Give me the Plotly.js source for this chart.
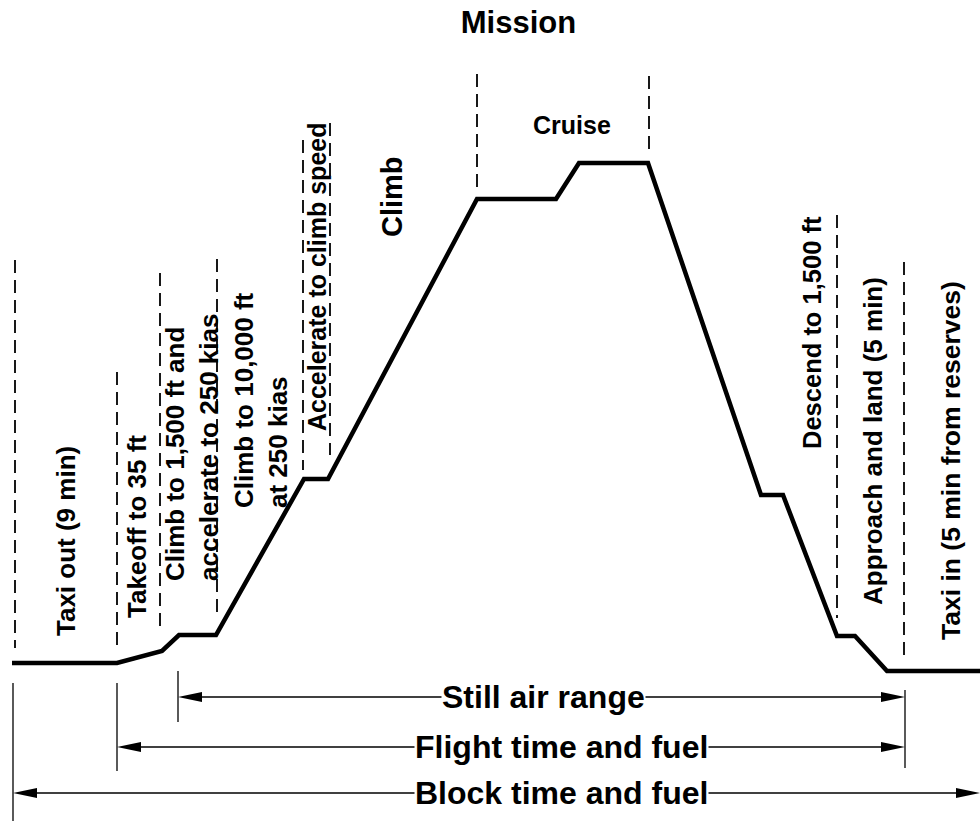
<!DOCTYPE html>
<html>
<head>
<meta charset="utf-8">
<script src="https://cdn.plot.ly/plotly-3.0.1.min.js"></script>
<style>html,body{margin:0;padding:0;background:#fff;}#chart{width:980px;height:821px;}</style>
</head>
<body>
<div id="chart"></div>
<script>
// Flight profile (schematic distance / altitude in drawing units)
const profileX = [12, 117, 162, 179, 216, 304, 328, 477, 556, 579, 648, 761, 783, 837, 855, 887, 980];
const profileY = [663, 663, 651, 635, 635, 479, 479, 199, 199, 163, 163, 495, 495, 636, 636, 671, 671];

// Dashed phase dividers
const dividerX      = [15, 117, 160, 217, 303, 330, 477, 649, 837, 904];
const dividerTop    = [260, 372, 273, 259, 140, 123, 74, 76, 215, 262];
const dividerBottom = [648, 650, 632, 615, 470, 455, 190, 150, 618, 662];

// Phase labels
const phaseLabels = [
  "Taxi out (9 min)",
  "Takeoff to 35 ft",
  "Climb to 1,500 ft and<br>accelerate to 250 kias",
  "Climb to 10,000 ft<br>at 250 kias",
  "Accelerate to climb speed",
  "Climb",
  "Cruise",
  "Descend to 1,500 ft",
  "Approach and land (5 min)",
  "Taxi in (5 min from reserves)"
];
const phaseX     = [66, 137, 192, 261, 317, 392, 572, 812, 873, 951];
const phaseY     = [541, 527, 448, 400, 277, 197, 125, 333, 441, 461];
const phaseAngle = [-90, -90, -90, -90, -90, -90, 0, -90, -90, -90];
const phaseAlign = ["center", "center", "left", "left", "center", "center", "center", "center", "center", "center"];
const phaseSize  = [26, 26, 26, 26, 25, 29, 25, 25.5, 26, 26.5];

// Range / time brackets
const rangeNames = ["Still air range", "Flight time and fuel", "Block time and fuel"];
const rangeStart = [178, 117, 13];
const rangeEnd   = [905, 905, 980];
const rangeY     = [697, 747, 793];
const rangeLabelX = [543, 561, 561];

// Extension (witness) lines of the brackets
const extX      = [13, 117, 178, 905];
const extTop    = [683, 683, 671, 690];
const extBottom = [821, 771, 722, 768];

const FONT = "Liberation Sans, Arial, Helvetica, sans-serif";

const traces = [{
  x: profileX, y: profileY, type: "scatter", mode: "lines",
  line: {color: "#000", width: 4.5}, hoverinfo: "skip", showlegend: false
}];

const shapes = [];
dividerX.forEach((x, i) => {
  shapes.push({type: "line", xref: "x", yref: "y", x0: x, x1: x, y0: dividerTop[i], y1: dividerBottom[i],
    line: {color: "#000", width: 1.8, dash: "13px,7px"}});
});
extX.forEach((x, i) => {
  shapes.push({type: "line", xref: "x", yref: "y", x0: x, x1: x, y0: extTop[i], y1: extBottom[i],
    line: {color: "#000", width: 1.3}});
});
const AL = 24, AH = 5;
rangeNames.forEach((n, i) => {
  const y = rangeY[i], a = rangeStart[i], b = rangeEnd[i];
  shapes.push({type: "line", xref: "x", yref: "y", x0: a + 5, x1: b - 5, y0: y, y1: y, line: {color: "#000", width: 1.5}});
  shapes.push({type: "path", xref: "x", yref: "y",
    path: `M ${a} ${y} L ${a + AL} ${y - AH} L ${a + AL} ${y + AH} Z`, fillcolor: "#000", line: {width: 0}});
  shapes.push({type: "path", xref: "x", yref: "y",
    path: `M ${b} ${y} L ${b - AL} ${y - AH} L ${b - AL} ${y + AH} Z`, fillcolor: "#000", line: {width: 0}});
});

const annotations = [];
phaseLabels.forEach((t, i) => {
  annotations.push({x: phaseX[i], y: phaseY[i], xref: "x", yref: "y", text: "<b>" + t + "</b>",
    showarrow: false, textangle: phaseAngle[i], align: phaseAlign[i],
    xanchor: "center", yanchor: "middle",
    font: {family: FONT, size: phaseSize[i], color: "#000"}});
});
rangeNames.forEach((t, i) => {
  annotations.push({x: rangeLabelX[i], y: rangeY[i], xref: "x", yref: "y", text: "<b>" + t + "</b>",
    showarrow: false, xanchor: "center", yanchor: "middle", bgcolor: "#fff", borderpad: 0,
    font: {family: FONT, size: 32, color: "#000"}});
});

const layout = {
  width: 980, height: 821,
  margin: {l: 0, r: 0, t: 0, b: 0},
  paper_bgcolor: "#fff", plot_bgcolor: "#fff",
  title: {text: "<b>Mission</b>", x: 518.5 / 980, xanchor: "center", y: 1 - 22 / 821, yanchor: "middle",
    font: {family: FONT, size: 31, color: "#000"}},
  xaxis: {range: [0, 980], visible: false, fixedrange: true},
  yaxis: {range: [821, 0], visible: false, fixedrange: true},
  shapes: shapes, annotations: annotations, showlegend: false
};

Plotly.newPlot("chart", traces, layout, {staticPlot: true, displayModeBar: false});
</script>
</body>
</html>
